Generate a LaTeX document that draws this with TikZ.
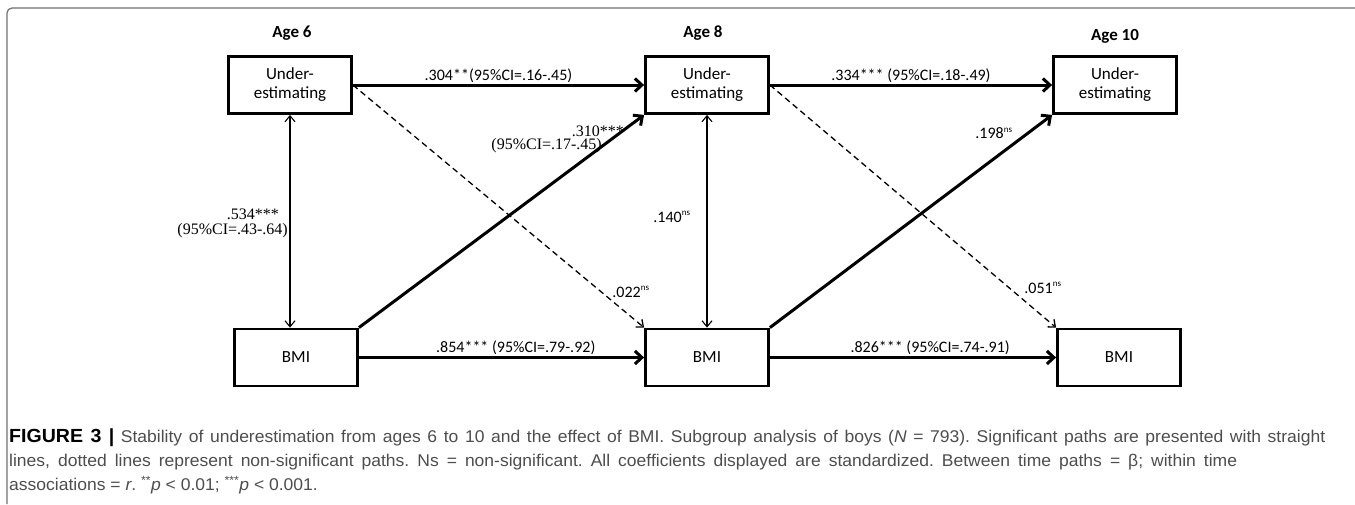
\documentclass[tikz,border=0pt]{standalone}
\usepackage{fontspec}
\setmainfont{Carlito}
\newfontfamily\timesfont{Liberation Serif}
\newfontfamily\capfont[FakeStretch=1.03]{Liberation Sans}
\usetikzlibrary{arrows.meta}
\definecolor{capgray}{HTML}{4D4D4D}
\definecolor{framegray}{HTML}{707070}
\newcommand{\nstext}{\textsuperscript{\fontsize{9}{9}\selectfont ns}}
\tikzset{
    box/.style={draw, line width=2.8pt, minimum width=123pt, minimum height=57pt, align=center, font=\fontsize{17}{19}\selectfont},
    age/.style={font=\fontsize{17}{20}\selectfont\bfseries},
    lab/.style={font=\fontsize{16}{19}\selectfont, inner sep=1pt},
    tlab/.style={font=\timesfont\fontsize{16}{19}\selectfont, inner sep=0pt},
    sig/.style={line width=3pt, -{Straight Barb[length=7pt,width=13pt]}},
    nsig/.style={line width=1.3pt, dash pattern=on 6pt off 4pt, -{Straight Barb[length=6pt,width=10pt]}},
    corr/.style={line width=1.1pt, {Straight Barb[length=6pt,width=10pt]}-{Straight Barb[length=6pt,width=10pt]}},
    captext/.style={anchor=west, font=\capfont\fontsize{17}{19}\selectfont\frenchspacing, text=capgray, inner sep=0pt}
}

\begin{document}
\begin{tikzpicture}[x=1pt, y=-1pt]
    \useasboundingbox (0,0) rectangle (1355,504);
    \draw[framegray, line width=1.2pt, rounded corners=5pt] (7,504) -- (7,8) -- (1355,8);

    % time points
    \node[age] (A6) at (292,33) {Age 6};
    \node[age] (A8) at (703,33) {Age 8};
    \node[age] (A10) at (1115,36) {Age 10};

    % variables
    \node[box] (U6) at (290,85) {Under-\\estimating};
    \node[box] (U8) at (707,85) {Under-\\estimating};
    \node[box] (U10) at (1115,85) {Under-\\estimating};
    \node[box] (B6) at (296,357.5) {BMI};
    \node[box] (B8) at (707,357.5) {BMI};
    \node[box] (B10) at (1119,357.5) {BMI};

    % paths
    \draw[sig] (U6) -- (U8) node[midway, above, lab] (l304) {.304**(95\%CI=.16-.45)};
    \draw[sig] (U8) -- (U10) node[midway, above, lab] (l334) {.334*** (95\%CI=.18-.49)};
    \draw[sig] (B6) -- (B8) node[pos=0.55, above, lab] (l854) {.854*** (95\%CI=.79-.92)};
    \draw[sig] (B8) -- (B10) node[pos=0.56, above, lab] (l826) {.826*** (95\%CI=.74-.91)};
    \draw[sig] (B6.north east) -- (U8.south west);
    \draw[sig] (B8.north east) -- (U10.south west);
    \draw[nsig] (U6.east) -- (B8.north west);
    \draw[nsig] (U8.east) -- (B10.north west);
    \draw[corr] (U6.south) -- (U6.south |- B6.north);
    \draw[corr] (U8.south) -- (B8.north);

    % coefficients
    \node[tlab, anchor=east] (l310) at (624,131) {.310***};
    \node[tlab, anchor=east] (c310) at (602,146) {(95\%CI=.17-.45)};
    \node[tlab, anchor=east] (l534) at (279,214) {.534***};
    \node[tlab, anchor=east] (c534) at (288,231) {(95\%CI=.43-.64)};
    \node[lab] (l140) at (672,217) {.140\nstext};
    \node[lab] (l198) at (994,133) {.198\nstext};
    \node[lab] (l022) at (631,292) {.022\nstext};
    \node[lab] (l051) at (1043,288) {.051\nstext};

    % caption
    \node[captext] (cap1) at (9,438) {\makebox[1316pt][s]{{\color{black}\fontsize{19}{20}\selectfont\bfseries FIGURE 3 |} Stability of underestimation from ages 6 to 10 and the effect of BMI. Subgroup analysis of boys (\textit{N} = 793). Significant paths are presented with straight}};
    \node[captext] (cap2) at (9,462) {\makebox[1228pt][s]{lines, dotted lines represent non-significant paths. Ns = non-significant. All coefficients displayed are standardized. Between time paths = β; within time}};
    \node[captext] (cap3) at (9,485) {associations = \textit{r}. \textsuperscript{**}\textit{p} < 0.01; \textsuperscript{***}\textit{p} < 0.001.};
\end{tikzpicture}
\end{document}
